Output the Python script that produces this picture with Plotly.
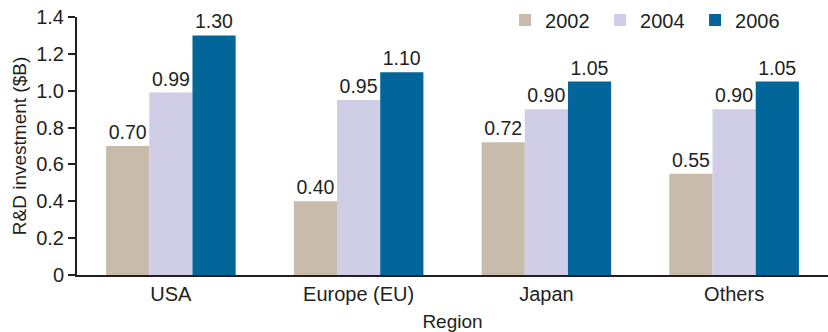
import plotly.graph_objects as go

regions = ["USA", "Europe (EU)", "Japan", "Others"]
years = ["2002", "2004", "2006"]
invest_2002 = [0.70, 0.40, 0.72, 0.55]
invest_2004 = [0.99, 0.95, 0.90, 0.90]
invest_2006 = [1.30, 1.10, 1.05, 1.05]
colors = ["#C8BBAB", "#CFCEE6", "#02669A"]
y_ticks = [0, 0.2, 0.4, 0.6, 0.8, 1.0, 1.2, 1.4]
y_tick_text = ["0", "0.2", "0.4", "0.6", "0.8", "1.0", "1.2", "1.4"]

FONT = "Liberation Sans, Arial, Helvetica, sans-serif"
INK = "#231F20"

fig = go.Figure()
for year, vals, col in zip(years, [invest_2002, invest_2004, invest_2006], colors):
    fig.add_trace(go.Bar(
        x=regions, y=vals, name=year,
        marker=dict(color=col, line=dict(width=0)),
        text=[f"{v:.2f}" for v in vals],
        textposition="outside",
        textfont=dict(family=FONT, size=19.5, color=INK),
        cliponaxis=False,
    ))

fig.update_layout(
    width=828, height=332,
    margin=dict(l=77, r=0, t=17, b=57, autoexpand=False),
    paper_bgcolor="white", plot_bgcolor="white",
    barmode="group", bargap=0.31, bargroupgap=0,
    font=dict(family=FONT, size=20, color=INK),
    showlegend=True,
    legend=dict(
        orientation="h",
        x=0.570, y=0.988, xanchor="left", yanchor="middle",
        font=dict(family=FONT, size=20, color=INK),
        itemwidth=30, entrywidth=50, entrywidthmode="pixels",
        bgcolor="rgba(0,0,0,0)",
    ),
    xaxis=dict(
        range=[-0.5, 3.5],
        showline=True, linecolor=INK, linewidth=2,
        ticks="", showgrid=False,
        tickfont=dict(family=FONT, size=20, color=INK),
        title=dict(text="Region", font=dict(family=FONT, size=19, color=INK), standoff=12),
    ),
    yaxis=dict(
        range=[0, 1.4],
        tickvals=y_ticks, ticktext=y_tick_text,
        showline=True, linecolor=INK, linewidth=2,
        ticks="outside", ticklen=7, tickwidth=1.5, tickcolor=INK,
        showgrid=False, zeroline=False,
        tickfont=dict(family=FONT, size=20, color=INK),
        title=dict(text="R&D investment ($B)", font=dict(family=FONT, size=19, color=INK), standoff=5),
    ),
)

fig.write_html("out.html")
